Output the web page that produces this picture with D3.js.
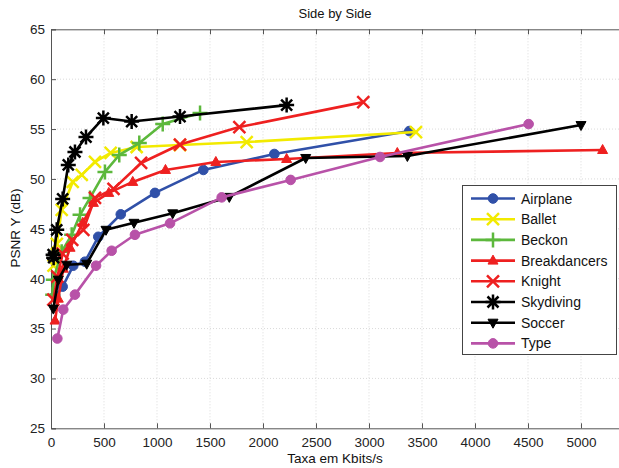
<!DOCTYPE html>
<html><head><meta charset="utf-8">
<script src="https://cdn.jsdelivr.net/npm/d3@7"></script>
<style>body{margin:0;background:#fff;} svg{display:block;font-family:"Liberation Sans",Arial,sans-serif;}</style>
</head><body>
<svg id="c" width="619" height="468"></svg>
<script>
const seriesNames = ["Airplane","Ballet","Beckon","Breakdancers","Knight","Skydiving","Soccer","Type"];
const airplane = [[40,38.3],[110,39.2],[210,41.3],[320,41.7],[446,44.2],[658,46.45],[981,48.6],[1437,50.9],[2107,52.5],[3380,54.8]];
const ballet = [[24,41.3],[55,43.5],[101,46.9],[205,49.7],[290,50.4],[415,51.7],[563,52.6],[808,53.2],[1217,53.4],[1846,53.7],[3443,54.7]];
const beckon = [[16,38.4],[22,39.9],[101,42.7],[195,44.4],[274,46.4],[368,48.1],[509,50.7],[644,52.4],[833,53.6],[1054,55.5],[1406,56.6]];
const breakdancers = [[38,35.8],[69,38.0],[116,41.0],[180,43.1],[300,45.6],[400,47.6],[545,48.6],[771,49.7],[1080,50.9],[1555,51.7],[2223,52.0],[3267,52.6],[5204,52.9]];
const knight = [[22,37.9],[60,40.2],[110,42.5],[200,43.9],[305,44.9],[415,48.1],[590,49.0],[850,51.6],[1217,53.45],[1777,55.2],[2946,57.7]];
const skydiving = [[20,42.4],[25,42.1],[54,44.9],[110,48.0],[163,51.4],[226,52.7],[330,54.2],[494,56.1],[761,55.75],[1217,56.25],[2223,57.4]];
const soccer = [[22,37.0],[69,39.9],[148,41.4],[337,41.5],[519,44.9],[783,45.6],[1148,46.55],[1682,48.2],[2403,52.1],[3362,52.3],[5000,55.4]];
const type = [[60,34.0],[116,36.9],[226,38.4],[425,41.3],[572,42.8],[792,44.4],[1123,45.55],[1610,48.15],[2261,49.9],[3104,52.2],[4506,55.5]];
const xTicks = [0,500,1000,1500,2000,2500,3000,3500,4000,4500,5000];
const yTicks = [25,30,35,40,45,50,55,60,65];

const colors = ["#3050a8","#f2ea00","#5cb83c","#ee2020","#ee2020","#000000","#000000","#b852a8"];
const markers = ["circle","x","plus","tri","x","star","tridown","circle"];
const data = [airplane,ballet,beckon,breakdancers,knight,skydiving,soccer,type];

const svg = d3.select("#c");
const L=51, R=634, T=29.3, B=428.3;
const x = d3.scaleLinear().domain([0,5500]).range([L,R]);
const y = d3.scaleLinear().domain([25,65]).range([B,T]);

// grid
const g = svg.append("g");
g.selectAll(".gx").data(xTicks.slice(1)).enter().append("line")
 .attr("x1",d=>x(d)).attr("x2",d=>x(d)).attr("y1",T).attr("y2",B)
 .attr("stroke","#d0d0d0").attr("stroke-width",0.8).attr("stroke-dasharray","1,2");
g.selectAll(".gy").data(yTicks.slice(1,-1)).enter().append("line")
 .attr("x1",L).attr("x2",R).attr("y1",d=>y(d)).attr("y2",d=>y(d))
 .attr("stroke","#d0d0d0").attr("stroke-width",0.8).attr("stroke-dasharray","1,2");

// axes
const xa = svg.append("g").attr("transform",`translate(0,${B})`)
 .call(d3.axisBottom(x).tickValues(xTicks).tickSize(-5).tickPadding(9).tickFormat(d3.format("d")));
const xt = svg.append("g").attr("transform",`translate(0,${T})`)
 .call(d3.axisTop(x).tickValues(xTicks).tickSize(-5).tickFormat(""));
const ya = svg.append("g").attr("transform",`translate(${L},0)`)
 .call(d3.axisLeft(y).tickValues(yTicks).tickSize(-5).tickPadding(6));
[xa,xt,ya].forEach(a=>{
  a.select(".domain").attr("stroke","#555").attr("stroke-width",1);
  a.selectAll(".tick line").attr("stroke","#555");
  a.selectAll("text").attr("font-size","13.5px").attr("fill","#222").attr("font-family","Liberation Sans, Arial, sans-serif");
});

function drawMarker(sel, type, color){
  const s = sel;
  if(type==="circle"){ s.append("circle").attr("r",4.8).attr("fill",color).attr("stroke",color); }
  else if(type==="x"){ const h=6; s.append("path").attr("d",`M${-h},${-h}L${h},${h}M${-h},${h}L${h},${-h}`).attr("stroke",color).attr("stroke-width",2.5).attr("fill","none"); }
  else if(type==="plus"){ const h=7.5; s.append("path").attr("d",`M${-h},0L${h},0M0,${-h}L0,${h}`).attr("stroke",color).attr("stroke-width",2.5).attr("fill","none"); }
  else if(type==="star"){ const h=7.5, k=5.5; s.append("path").attr("d",`M${-h},0L${h},0M0,${-h}L0,${h}M${-k},${-k}L${k},${k}M${-k},${k}L${k},${-k}`).attr("stroke",color).attr("stroke-width",2.5).attr("fill","none"); }
  else if(type==="tri"){ s.append("path").attr("d","M0,-5.5L5,3.5L-5,3.5Z").attr("fill",color).attr("stroke",color).attr("stroke-width",1); }
  else if(type==="tridown"){ s.append("path").attr("d","M0,5.5L5,-3.5L-5,-3.5Z").attr("fill",color).attr("stroke",color).attr("stroke-width",1); }
}

const plot = svg.append("g");
const line = d3.line().x(d=>x(d[0])).y(d=>y(d[1]));
data.forEach((ser,i)=>{
  const gs = plot.append("g");
  gs.append("path").attr("d",line(ser)).attr("fill","none").attr("stroke",colors[i]).attr("stroke-width",2.6).attr("stroke-linejoin","round");
  ser.forEach(p=>{
    const m = gs.append("g").attr("transform",`translate(${x(p[0])},${y(p[1])})`);
    drawMarker(m, markers[i], colors[i]);
  });
});

// legend
const lg = svg.append("g");
lg.append("rect").attr("x",462.5).attr("y",185.5).attr("width",154).attr("height",169).attr("fill","#fff").attr("stroke","#444").attr("stroke-width",1);
seriesNames.forEach((n,i)=>{
  const yy = 198.5 + i*20.7;
  lg.append("line").attr("x1",471).attr("x2",515).attr("y1",yy).attr("y2",yy).attr("stroke",colors[i]).attr("stroke-width",2.6);
  const m = lg.append("g").attr("transform",`translate(493,${yy})`);
  drawMarker(m, markers[i], colors[i]);
  lg.append("text").attr("x",521).attr("y",yy+5).attr("font-size","14px").attr("fill","#111").text(n);
});

// title and labels
svg.append("text").attr("x",335).attr("y",18).attr("text-anchor","middle").attr("font-size","13px").attr("fill","#111").text("Side by Side");
svg.append("text").attr("x",335).attr("y",463).attr("text-anchor","middle").attr("font-size","13.5px").attr("fill","#111").text("Taxa em Kbits/s");
svg.append("text").attr("transform","translate(20,228) rotate(-90)").attr("text-anchor","middle").attr("font-size","13.5px").attr("fill","#111").text("PSNR Y (dB)");
</script>
</body></html>
